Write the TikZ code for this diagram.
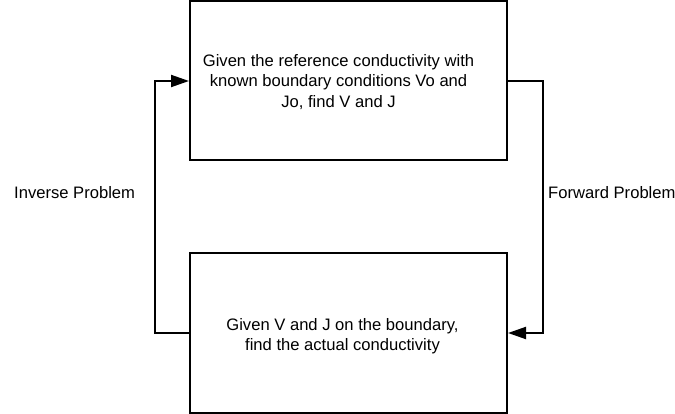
\documentclass[tikz,border=0pt]{standalone}
\usepackage{fontspec}
\setmainfont{Liberation Sans}
\usetikzlibrary{arrows.meta}
\begin{document}
\begin{tikzpicture}[x=1pt,y=-1pt,
  box/.style={draw,line width=2pt,minimum width=317pt,minimum height=159pt,inner sep=0pt},
  txt/.style={font=\fontsize{16.6pt}{20.5pt}\selectfont,align=center,inner sep=0pt},
  conn/.style={line width=2pt},
  flow/.style={conn,-{Triangle[length=18pt,width=12pt]}}]
  \useasboundingbox (0,0) rectangle (675,414);
  % the two problem boxes
  \node[box] (fwd) at (348.5,81) {};
  \node[box] (inv) at (348.5,333) {};
  \node[txt] (fwdtxt) at (338.5,82) {Given the reference conductivity with\\known boundary conditions Vo and\\Jo, find V and J};
  \node[txt] (invtxt) at (342.5,336) {Given V and J on the boundary,\\find the actual conductivity};
  % loop routes on each side
  \coordinate (lx) at (155,0);
  \coordinate (rx) at (543,0);
  \draw[flow] (inv.west) -- (inv.west -| lx) -- (fwd.west -| lx) -- (fwd.west);
  \draw[flow] (fwd.east) -- (fwd.east -| rx) -- (inv.east -| rx) -- (inv.east);
  % side labels
  \node[txt,anchor=west] (invlbl) at (14,193) {Inverse Problem};
  \node[txt,anchor=west] (fwdlbl) at (548,193) {Forward Problem};
\end{tikzpicture}
\end{document}
